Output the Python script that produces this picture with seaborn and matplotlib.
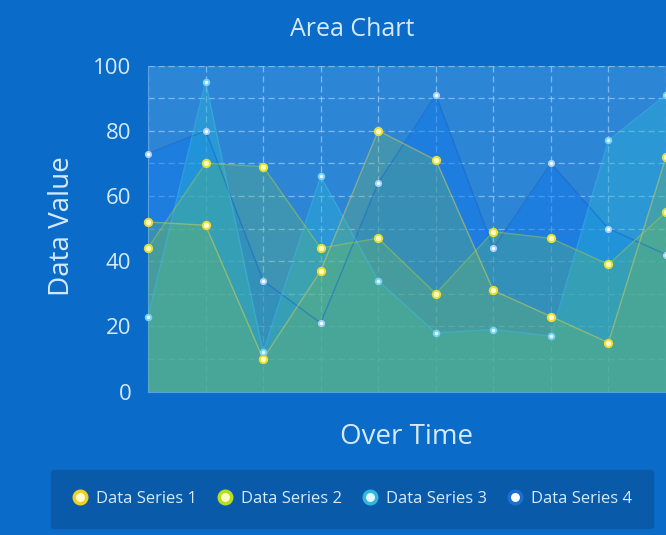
import matplotlib
matplotlib.use('Agg')
import matplotlib.pyplot as plt
import seaborn as sns
from matplotlib.lines import Line2D
from matplotlib.ticker import MultipleLocator

# ── DATA ──────────────────────────────────────────────────────────────
x_pos    = [0, 1, 2, 3, 4, 5, 6, 7, 8, 9]
series1  = [52, 51, 10, 37, 80, 71, 31, 23, 15, 72]
series2  = [44, 70, 69, 44, 47, 30, 49, 47, 39, 55]
series3  = [23, 95, 12, 66, 34, 18, 19, 17, 77, 91]
series4  = [73, 80, 34, 21, 64, 91, 44, 70, 50, 42]
names    = ['Data Series 1', 'Data Series 2', 'Data Series 3', 'Data Series 4']
y_ticks  = [0, 20, 40, 60, 80, 100]

# ── STYLE ─────────────────────────────────────────────────────────────
sns.set_style('white')
plt.rcParams['font.family'] = ['Open Sans', 'DejaVu Sans']
txt = '#d6eaff'
outer_bg = '#0a6cc8'
plot_bg = '#2d85d6'

fills  = ['#74b85a', '#66bc62', '#28b4d2', '#1078e8']
alphas = [0.30, 0.30, 0.40, 0.50]
edges  = ['#d8d050', '#a6cc40', '#40b8e8', '#1466c8']
pt_face = ['#fffbd0', '#f8fcc0', '#e0f8ff', '#ffffff']
pt_edge = ['#f0dc30', '#e4e030', '#78d4f4', '#a8d4ff']
pt_size = [28, 28, 16, 14]

fig = plt.figure(figsize=(6.66, 5.35), dpi=100, facecolor=outer_bg)
ax = fig.add_axes([148 / 666, 1 - 391.5 / 535, 518 / 666, 326 / 535])
ax.set_facecolor(plot_bg)

all_series = [series1, series2, series3, series4]
# blue areas at the back, yellow/green areas in front
draw_order = [3, 2, 1, 0]
for k, i in enumerate(draw_order):
    s = all_series[i]
    ax.fill_between(x_pos, 0, s, color=fills[i], alpha=alphas[i], linewidth=0, zorder=2 + k)
    sns.lineplot(x=x_pos, y=s, color=edges[i], linewidth=1.0, alpha=0.5, ax=ax, zorder=6 + k)

# points drawn on top of everything
for i, s in enumerate(all_series):
    sns.scatterplot(x=x_pos, y=s, color=pt_face[i], edgecolor=pt_edge[i], linewidth=1.4,
                    s=pt_size[i], ax=ax, zorder=12 + i, clip_on=False)

ax.set_xlim(0, 9)
ax.set_ylim(0, 100)
ax.set_xticks(x_pos)
ax.set_xticklabels([])
ax.set_yticks(y_ticks)
ax.yaxis.set_minor_locator(MultipleLocator(10))
ax.tick_params(axis='y', which='major', colors='#cfe6ff', labelcolor=txt, labelsize=16,
               length=9, width=1.2, pad=3)
ax.tick_params(axis='y', which='minor', colors='#cfe6ff', length=6, width=1.2)
ax.tick_params(axis='x', which='major', colors='#cfe6ff', length=9, width=1.2)

# dashed grid every 10 units and every category
ax.grid(True, which='both', color='#a8d4f8', linestyle=(0, (5, 3)), linewidth=0.9, alpha=0.65)
for gl in ax.get_xgridlines() + ax.get_ygridlines():
    gl.set_zorder(11)

for side in ['top', 'right']:
    ax.spines[side].set_visible(False)
ax.spines['left'].set_color('#5aa0e0')
ax.spines['bottom'].set_color('#5aa0e0')

ax.set_xlabel('Over Time', color=txt, fontsize=20, labelpad=10)
ax.set_ylabel('')
fig.text(62 / 666, 1 - 226 / 535, 'Data Value', color=txt, fontsize=20,
         rotation=90, ha='center', va='center')
fig.text(352 / 666, 1 - 30 / 535, 'Area Chart', color=txt, fontsize=18,
         ha='center', va='center')

# legend along the bottom
leg_edge = ['#f0d020', '#b8dc20', '#30b8e0', '#1a70d0']
handles = [Line2D([0], [0], marker='o', linestyle='', markersize=9,
                  markerfacecolor=pt_face[i], markeredgecolor=leg_edge[i],
                  markeredgewidth=2.5) for i in range(4)]
leg = fig.legend(handles, names, loc='center', bbox_to_anchor=(352 / 666, 1 - 499 / 535),
                 ncol=4, frameon=True, fancybox=True, fontsize=12, handletextpad=0.45,
                 columnspacing=1.2, borderpad=1.25, handlelength=1.0, labelcolor=txt)
leg.get_frame().set_facecolor('#0a5aaa')
leg.get_frame().set_edgecolor('#0a5aaa')
leg.get_frame().set_alpha(1)

plt.savefig('out.png', dpi=100, facecolor=outer_bg)
